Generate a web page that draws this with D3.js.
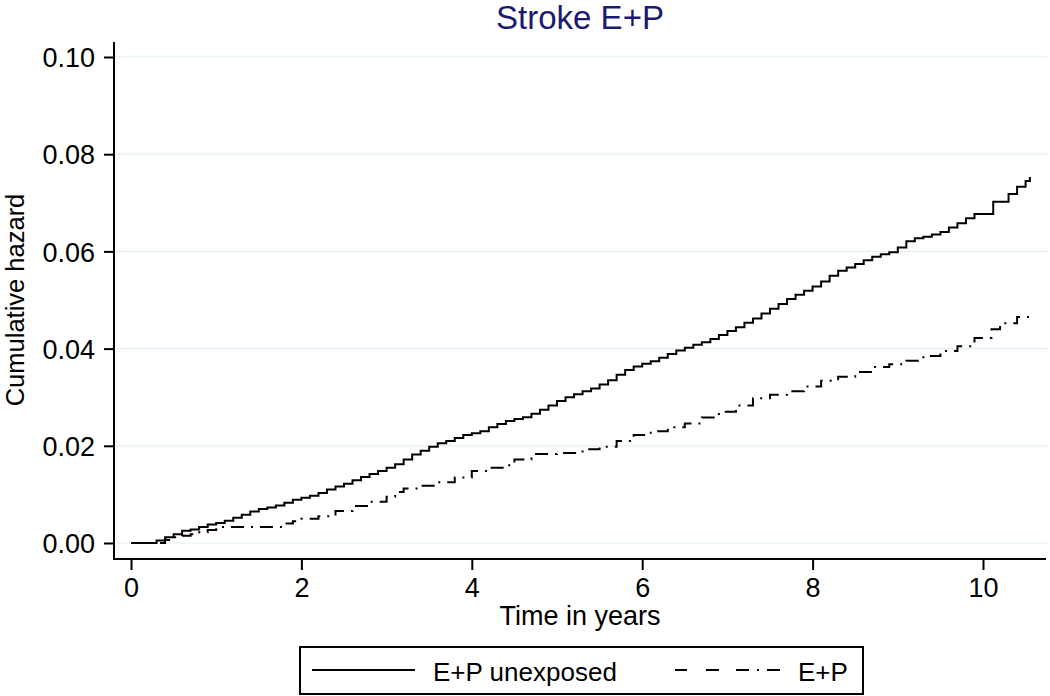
<!DOCTYPE html>
<html>
<head>
<meta charset="utf-8">
<script src="https://cdn.jsdelivr.net/npm/d3@7"></script>
<style>
  html, body { margin: 0; padding: 0; background: #fff; }
  svg { display: block; font-family: "Liberation Sans", Arial, sans-serif; }
</style>
</head>
<body>
<svg id="chart" width="1050" height="696"></svg>
<script>
// ---------- data ----------
const titleText = "Stroke E+P";
const xLabel = "Time in years";
const yLabel = "Cumulative hazard";
const seriesNames = ["E+P unexposed", "E+P"];

const xTicks = [0, 2, 4, 6, 8, 10];
const yTicks = [0, 0.02, 0.04, 0.06, 0.08, 0.10];

// E+P unexposed (solid) – step points [time, cumulative hazard]
const unexposedTime = [0, 0.2, 0.3, 0.4, 0.5, 0.6, 0.7, 0.8, 0.9, 1.0, 1.1, 1.2, 1.3, 1.4, 1.5, 1.6, 1.7, 1.8, 1.9, 2.0,
  2.1, 2.2, 2.3, 2.4, 2.5, 2.6, 2.7, 2.8, 2.9, 3.0, 3.1, 3.2, 3.3, 3.4, 3.5, 3.6, 3.7, 3.8, 3.9, 4.0,
  4.1, 4.2, 4.3, 4.4, 4.5, 4.6, 4.7, 4.8, 4.9, 5.0, 5.1, 5.2, 5.3, 5.4, 5.5, 5.6, 5.7, 5.8, 5.9, 6.0,
  6.1, 6.2, 6.3, 6.4, 6.5, 6.6, 6.7, 6.8, 6.9, 7.0, 7.1, 7.2, 7.3, 7.4, 7.5, 7.6, 7.7, 7.8, 7.9, 8.0,
  8.1, 8.2, 8.3, 8.4, 8.5, 8.6, 8.7, 8.8, 8.9, 9.0, 9.1, 9.2, 9.3, 9.4, 9.5, 9.6, 9.7, 9.8, 9.9, 10.0,
  10.12, 10.3, 10.4, 10.5, 10.55];
const unexposedHaz = [0, 0, 0.0005, 0.0012, 0.0018, 0.0025, 0.0028, 0.0033, 0.0038, 0.0041, 0.0046, 0.0052, 0.0058, 0.0065, 0.0070, 0.0073, 0.0077, 0.0083, 0.0089, 0.0093,
  0.0097, 0.0103, 0.0110, 0.0116, 0.0122, 0.0129, 0.0136, 0.0142, 0.0148, 0.0155, 0.0162, 0.0172, 0.0182, 0.0190, 0.0198, 0.0205, 0.0210, 0.0216, 0.0222, 0.0226,
  0.0230, 0.0238, 0.0245, 0.0251, 0.0255, 0.0259, 0.0266, 0.0274, 0.0283, 0.0292, 0.0300, 0.0306, 0.0312, 0.0318, 0.0326, 0.0335, 0.0346, 0.0356, 0.0363, 0.0369,
  0.0374, 0.0381, 0.0389, 0.0396, 0.0402, 0.0408, 0.0413, 0.0420, 0.0428, 0.0436, 0.0444, 0.0453, 0.0462, 0.0472, 0.0482, 0.0492, 0.0502, 0.0511, 0.0519, 0.0528,
  0.0538, 0.0550, 0.0560, 0.0567, 0.0574, 0.0582, 0.0589, 0.0594, 0.0598, 0.0608, 0.0621, 0.0627, 0.0630, 0.0635, 0.0640, 0.0649, 0.0658, 0.0668, 0.0677, 0.0677,
  0.0702, 0.0718, 0.0733, 0.0745, 0.0753];

// E+P (dash-dot) – step points [time, cumulative hazard]
const exposedTime = [0, 0.3, 0.4, 0.5, 0.6, 0.7, 0.8, 0.9, 1.0, 1.7, 1.8, 1.9, 2.0, 2.2, 2.4, 2.6, 2.8, 3.0, 3.1, 3.2,
  3.4, 3.6, 3.8, 4.0, 4.2, 4.4, 4.5, 4.7, 5.0, 5.3, 5.5, 5.7, 5.9, 6.1, 6.3, 6.5, 6.7, 6.9, 7.1, 7.3,
  7.5, 7.7, 7.9, 8.1, 8.3, 8.5, 8.7, 8.9, 9.1, 9.3, 9.5, 9.7, 9.9, 10.1, 10.2, 10.4, 10.55];
const exposedHaz = [0, 0, 0.0006, 0.0012, 0.0015, 0.0018, 0.0022, 0.0027, 0.0033, 0.0033, 0.0040, 0.0045, 0.0050, 0.0055, 0.0066, 0.0076, 0.0085, 0.0095, 0.0105, 0.0112,
  0.0118, 0.0125, 0.0135, 0.0148, 0.0155, 0.0160, 0.0172, 0.0183, 0.0185, 0.0193, 0.0198, 0.0210, 0.0222, 0.0230, 0.0238, 0.0246, 0.0258, 0.0270, 0.0283, 0.0298,
  0.0305, 0.0312, 0.0322, 0.0334, 0.0342, 0.0352, 0.0362, 0.0368, 0.0375, 0.0385, 0.0395, 0.0405, 0.0422, 0.0440, 0.0452, 0.0465, 0.0473];

// ---------- layout ----------
const svg = d3.select("#chart");
const plotLeft = 114, plotRight = 1046, plotTop = 42, plotBottom = 559;

const x = d3.scaleLinear().domain([0, 10]).range([131, 983]);
const y = d3.scaleLinear().domain([0, 0.10]).range([543, 57]);

// gridlines
svg.append("g").selectAll("line").data(yTicks).join("line")
  .attr("x1", plotLeft + 2).attr("x2", 1048)
  .attr("y1", d => y(d)).attr("y2", d => y(d))
  .attr("stroke", "#e3f1f1").attr("stroke-width", 1.2);

// axes
const yAxis = d3.axisLeft(y).tickValues(yTicks).tickFormat(d3.format(".2f")).tickSize(10).tickPadding(9);
const gy = svg.append("g").attr("transform", `translate(${plotLeft},0)`).call(yAxis);
gy.select(".domain").remove();
gy.selectAll(".tick line").attr("stroke", "#000").attr("stroke-width", 2);
gy.selectAll(".tick text").attr("font-size", 27).attr("fill", "#000")
  .attr("font-family", "Liberation Sans, Arial, sans-serif").attr("dy", "0.36em");

const xAxis = d3.axisBottom(x).tickValues(xTicks).tickFormat(d3.format("d")).tickSize(11).tickPadding(8);
const gx = svg.append("g").attr("transform", `translate(0,${plotBottom})`).call(xAxis);
gx.select(".domain").remove();
gx.selectAll(".tick line").attr("stroke", "#000").attr("stroke-width", 2);
gx.selectAll(".tick text").attr("font-size", 27).attr("fill", "#000")
  .attr("font-family", "Liberation Sans, Arial, sans-serif").attr("dy", "0.72em");

// axis lines
svg.append("line").attr("x1", plotLeft).attr("x2", plotLeft).attr("y1", plotTop).attr("y2", plotBottom + 1)
  .attr("stroke", "#000").attr("stroke-width", 2);
svg.append("line").attr("x1", plotLeft - 1).attr("x2", plotRight).attr("y1", plotBottom).attr("y2", plotBottom)
  .attr("stroke", "#000").attr("stroke-width", 2);

// series
const line = d3.line().x(d => x(d[0])).y(d => y(d[1])).curve(d3.curveStepAfter);
const unexposed = unexposedTime.map((t, i) => [t, unexposedHaz[i]]);
const exposed = exposedTime.map((t, i) => [t, exposedHaz[i]]);

svg.append("path").datum(unexposed).attr("d", line)
  .attr("fill", "none").attr("stroke", "#000").attr("stroke-width", 2);
svg.append("path").datum(exposed).attr("d", line)
  .attr("fill", "none").attr("stroke", "#000").attr("stroke-width", 2)
  .attr("stroke-dasharray", "13,7,2,7");

// title
svg.append("text").attr("x", 580).attr("y", 29).attr("text-anchor", "middle")
  .attr("font-size", 33).attr("fill", "#1a1a72").text(titleText);

// axis titles
svg.append("text").attr("x", 580).attr("y", 625).attr("text-anchor", "middle")
  .attr("font-size", 27).attr("fill", "#000").text(xLabel);
svg.append("text").attr("transform", "translate(24,300) rotate(-90)").attr("text-anchor", "middle")
  .attr("font-size", 25.5).attr("fill", "#000").text(yLabel);

// legend
const lg = svg.append("g");
lg.append("rect").attr("x", 300).attr("y", 647).attr("width", 563).attr("height", 47)
  .attr("fill", "#fff").attr("stroke", "#000").attr("stroke-width", 2);
lg.append("line").attr("x1", 312).attr("x2", 415).attr("y1", 670).attr("y2", 670)
  .attr("stroke", "#000").attr("stroke-width", 2);
lg.append("text").attr("x", 433).attr("y", 681).attr("font-size", 26).attr("fill", "#000").text(seriesNames[0]);
lg.append("line").attr("x1", 675).attr("x2", 782).attr("y1", 670).attr("y2", 670)
  .attr("stroke", "#000").attr("stroke-width", 2).attr("stroke-dasharray", "12,19,13,17,13,8,2,8,13");
lg.append("text").attr("x", 798).attr("y", 681).attr("font-size", 26).attr("fill", "#000").text(seriesNames[1]);
</script>
</body>
</html>
